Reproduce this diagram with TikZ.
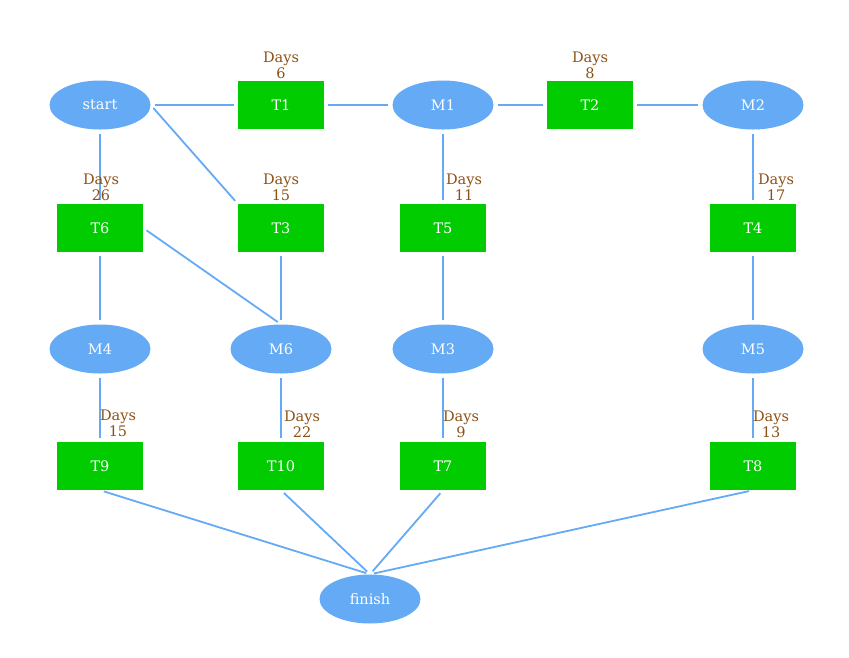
\documentclass[tikz,border=0pt]{standalone}
\usepackage{fontspec}
\setmainfont{DejaVu Serif}
\usetikzlibrary{shapes.geometric}
\definecolor{nodeblue}{RGB}{100,170,245}
\definecolor{taskgreen}{RGB}{0,204,0}
\definecolor{daysbrown}{RGB}{140,80,20}
\begin{document}
\begin{tikzpicture}[x=1pt,y=-1pt,
  mile/.style={ellipse,fill=nodeblue,draw=none,minimum width=101pt,minimum height=49pt,inner sep=0pt,text=white,font=\fontsize{14.5}{16}\selectfont},
  task/.style={rectangle,fill=taskgreen,draw=none,minimum width=86pt,minimum height=48pt,inner sep=0pt,text=white,font=\fontsize{14.5}{16}\selectfont},
  days/.style={align=center,text=daysbrown,inner sep=0pt,font=\fontsize{14.5}{16}\selectfont},
  link/.style={draw=nodeblue,line width=1.8pt,shorten <=4pt,shorten >=4pt}]
\useasboundingbox (0,0) rectangle (849,657);
% row 1
\node[mile] (start) at (100,105) {start};
\node[task] (T1) at (281,105) {T1};
\node[mile] (M1) at (443,105) {M1};
\node[task] (T2) at (590,105) {T2};
\node[mile] (M2) at (753,105) {M2};
% row 2
\node[task] (T6) at (100,228) {T6};
\node[task] (T3) at (281,228) {T3};
\node[task] (T5) at (443,228) {T5};
\node[task] (T4) at (753,228) {T4};
% row 3
\node[mile] (M4) at (100,349) {M4};
\node[mile] (M6) at (281,349) {M6};
\node[mile] (M3) at (443,349) {M3};
\node[mile] (M5) at (753,349) {M5};
% row 4
\node[task] (T9) at (100,466) {T9};
\node[task] (T10) at (281,466) {T10};
\node[task] (T7) at (443,466) {T7};
\node[task] (T8) at (753,466) {T8};
% finish
\node[mile] (finish) at (370,599) {finish};
% connectors
\draw[link] (start) -- (T1);
\draw[link] (T1) -- (M1);
\draw[link] (M1) -- (T2);
\draw[link] (T2) -- (M2);
\draw[link] (start.south) -- (T6.north);
\draw[link] (start.east) -- (T3.north west);
\draw[link] (M1.south) -- (T5.north);
\draw[link] (M2.south) -- (T4.north);
\draw[link] (T6.south) -- (M4.north);
\draw[link] (T6.east) -- (M6.north);
\draw[link] (T3.south) -- (M6.north);
\draw[link] (T5.south) -- (M3.north);
\draw[link] (T4.south) -- (M5.north);
\draw[link] (M4.south) -- (T9.north);
\draw[link] (M6.south) -- (T10.north);
\draw[link] (M3.south) -- (T7.north);
\draw[link] (M5.south) -- (T8.north);
\draw[link] (T9.south) -- (finish.north);
\draw[link] (T10.south) -- (finish.north);
\draw[link] (T7.south) -- (finish.north);
\draw[link] (T8.south) -- (finish.north);
% duration labels
\node[days] (d1) at (281,65) {Days\\6};
\node[days] (d2) at (590,65) {Days\\8};
\node[days] (d6) at (101,187) {Days\\26};
\node[days] (d3) at (281,187) {Days\\15};
\node[days] (d5) at (464,187) {Days\\11};
\node[days] (d4) at (776,187) {Days\\17};
\node[days] (d9) at (118,423) {Days\\15};
\node[days] (d10) at (302,424) {Days\\22};
\node[days] (d7) at (461,424) {Days\\9};
\node[days] (d8) at (771,424) {Days\\13};
\end{tikzpicture}
\end{document}
